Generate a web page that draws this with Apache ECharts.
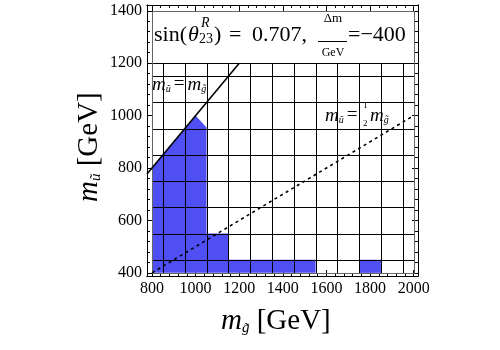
<!DOCTYPE html>
<html>
<head>
<meta charset="utf-8">
<script src="https://cdn.jsdelivr.net/npm/echarts@6/dist/echarts.min.js"></script>
<style>
  html, body { margin: 0; padding: 0; background: #fff; }
  #chart { width: 500px; height: 350px; }
</style>
</head>
<body>
<div id="chart"></div>
<script>
// Axis ticks (GeV)
const xTicks = [800, 1000, 1200, 1400, 1600, 1800, 2000];
const yTicks = [400, 600, 800, 1000, 1200, 1400];
const xMinorTicks = [840, 880, 920, 960, 1040, 1080, 1120, 1160, 1240, 1280, 1320, 1360,
  1440, 1480, 1520, 1560, 1640, 1680, 1720, 1760, 1840, 1880, 1920, 1960];
const yMinorTicks = [440, 480, 520, 560, 640, 680, 720, 760, 840, 880, 920, 960,
  1040, 1080, 1120, 1160, 1240, 1280, 1320, 1360];

// Scan grid: cell boundaries (cells centred on the 100 GeV scan points)
const gridXEdges = [850, 950, 1050, 1150, 1250, 1350, 1450, 1550, 1650, 1750, 1850, 1950];
const gridYEdges = [450, 550, 650, 750, 850, 950, 1050, 1150];
const scanXRange = [800, 2000];
const scanYRange = [400, 1200];
const titleBoxTop = 1400;

// Excluded region (m_gluino, m_squark) outline
const regionGluino = [800, 800, 1000, 1050, 1050, 1150, 1150, 1550, 1550];
const regionSquark = [400, 800, 1000, 955, 550, 550, 450, 450, 400];
// Isolated excluded cell
const cellGluino = [1750, 1850];
const cellSquark = [400, 450];

// Reference lines
const equalMassLine = [[777, 777], [1200, 1200]];    // m_squark = m_gluino
const halfMassLine = [[800, 400], [2000, 1000]];     // m_squark = m_gluino / 2

const X_MIN = 777, X_MAX = 2020, Y_MIN = 388, Y_MAX = 1422;
const SERIF = 'Liberation Serif';
const BLUE = '#4f4ff4';
const GRID = { left: 147, top: 5, width: 271, height: 271 };

function axisDef(kind, gridIndex, position, ticks, len, labels) {
  return {
    type: 'value', gridIndex, position,
    min: kind === 'x' ? X_MIN : Y_MIN,
    max: kind === 'x' ? X_MAX : Y_MAX,
    axisLine: { show: true, lineStyle: { color: '#000', width: 1 } },
    axisTick: { show: true, inside: true, length: len, customValues: ticks, lineStyle: { color: '#000', width: 1 } },
    axisLabel: labels ? {
      show: true, customValues: ticks, fontFamily: SERIF, fontSize: 16, color: '#000', margin: 5,
      formatter: v => String(v)
    } : { show: false },
    splitLine: { show: false }
  };
}

const chart = echarts.init(document.getElementById('chart'), null, { renderer: 'canvas' });

const txt = (left, top, text, font, extra) => ({
  type: 'text', left, top, style: Object.assign({ text, font: font + ' ' + SERIF, fill: '#000' }, extra || {})
});
const subRich = {
  m: { font: 'italic 19px ' + SERIF, fill: '#000' },
  e: { font: '19px ' + SERIF, fill: '#000', padding: [0, 3, 0, 3] },
  s: { font: 'italic 10px ' + SERIF, fill: '#000', verticalAlign: 'bottom', padding: [9, 0, 0, 0] }
};
const axisRich = {
  m: { font: 'italic 29px ' + SERIF, fill: '#000' },
  s: { font: 'italic 15px ' + SERIF, fill: '#000', verticalAlign: 'bottom', padding: [13, 0, 0, 0] },
  u: { font: '29px ' + SERIF, fill: '#000' }
};

const option = {
  animation: false,
  backgroundColor: '#fff',
  grid: [GRID, GRID, GRID, GRID].map(g => Object.assign({ containLabel: false }, g)),
  xAxis: [
    axisDef('x', 0, 'bottom', xTicks, 6, true),
    axisDef('x', 1, 'bottom', xMinorTicks, 3, false),
    axisDef('x', 2, 'top', xTicks, 6, false),
    axisDef('x', 3, 'top', xMinorTicks, 3, false)
  ],
  yAxis: [
    axisDef('y', 0, 'left', yTicks, 6, true),
    axisDef('y', 1, 'left', yMinorTicks, 3, false),
    axisDef('y', 2, 'right', yTicks, 6, false),
    axisDef('y', 3, 'right', yMinorTicks, 3, false)
  ],
  series: [
    {
      // excluded region fill
      type: 'custom', xAxisIndex: 0, yAxisIndex: 0, silent: true, z: 1,
      data: [0],
      renderItem: function (params, api) {
        const main = regionGluino.map((g, i) => api.coord([g, regionSquark[i]]));
        const a = api.coord([cellGluino[0], cellSquark[0]]);
        const b = api.coord([cellGluino[1], cellSquark[1]]);
        return {
          type: 'group',
          children: [
            { type: 'polygon', shape: { points: main }, style: { fill: BLUE } },
            { type: 'rect', shape: { x: a[0], y: b[1], width: b[0] - a[0], height: a[1] - b[1] }, style: { fill: BLUE } }
          ]
        };
      }
    },
    {
      // scan grid and title box
      type: 'custom', xAxisIndex: 0, yAxisIndex: 0, silent: true, z: 2,
      data: [0],
      renderItem: function (params, api) {
        const children = [];
        const line = (p, q, color) => ({
          type: 'line',
          shape: { x1: Math.round(p[0]) + 0.5, y1: Math.round(p[1]) + 0.5, x2: Math.round(q[0]) + 0.5, y2: Math.round(q[1]) + 0.5 },
          style: { stroke: color, lineWidth: 1 }
        });
        gridXEdges.forEach(g => children.push(line(api.coord([g, scanYRange[0]]), api.coord([g, scanYRange[1]]), '#000')));
        gridYEdges.forEach(s => children.push(line(api.coord([scanXRange[0], s]), api.coord([scanXRange[1], s]), '#000')));
        children.push(line(api.coord([scanXRange[0], scanYRange[1]]), api.coord([scanXRange[1], scanYRange[1]]), '#000'));
        // outer edges of the scan area and title box
        children.push(line(api.coord([scanXRange[0], scanYRange[0]]), api.coord([scanXRange[0], titleBoxTop]), '#666'));
        children.push(line(api.coord([scanXRange[1], scanYRange[0]]), api.coord([scanXRange[1], titleBoxTop]), '#666'));
        children.push(line(api.coord([scanXRange[0], scanYRange[0]]), api.coord([scanXRange[1], scanYRange[0]]), '#666'));
        children.push(line(api.coord([scanXRange[0], titleBoxTop]), api.coord([scanXRange[1], titleBoxTop]), '#666'));
        return { type: 'group', children };
      }
    },
    {
      type: 'line', xAxisIndex: 0, yAxisIndex: 0, data: equalMassLine, symbol: 'none', z: 3,
      lineStyle: { color: '#000', width: 1.6 }, silent: true
    },
    {
      type: 'line', xAxisIndex: 0, yAxisIndex: 0, data: halfMassLine, symbol: 'none', z: 3,
      lineStyle: { color: '#000', width: 1.6, type: [3, 3.5] }, silent: true
    }
  ],
  graphic: [
    // title inside the box
    txt(154, 24, 'sin(', '22px'),
    txt(188, 24, 'θ', 'italic 22px'),
    txt(201, 16, 'R', 'italic 14px'),
    txt(199, 32, '23', '14px'),
    txt(214, 24, ')', '22px'),
    txt(229, 24, '=', '22px'),
    txt(252, 24, '0.707,', '22px'),
    { type: 'text', x: 333, y: 12, style: { text: 'Δm', font: '13px ' + SERIF, fill: '#000', align: 'center' } },
    { type: 'rect', shape: { x: 318, y: 41, width: 29, height: 1 }, style: { fill: '#000' } },
    { type: 'text', x: 333, y: 47, style: { text: 'GeV', font: '12px ' + SERIF, fill: '#000', align: 'center' } },
    txt(348, 24, '=−400', '22px'),
    // line annotations
    { type: 'text', left: 152, top: 75, style: { text: '{m|m}{s|ũ}{e|=}{m|m}{s|g̃}', rich: subRich } },
    { type: 'text', left: 325, top: 106, style: { text: '{m|m}{s|ũ}{e|=}', rich: subRich } },
    txt(363, 101, '1', '9px'),
    txt(363, 119, '2', '9px'),
    { type: 'text', left: 370, top: 106, style: { text: '{m|m}{s|g̃}', rich: subRich } },
    // axis titles
    { type: 'text', left: 221, top: 307, style: { text: '{m|m}{s|g̃}{u| [GeV]}', rich: axisRich } },
    { type: 'text', x: 75, y: 202, rotation: Math.PI / 2, style: { text: '{m|m}{s|ũ}{u| [GeV]}', rich: axisRich } }
  ]
};

chart.setOption(option);
</script>
</body>
</html>
